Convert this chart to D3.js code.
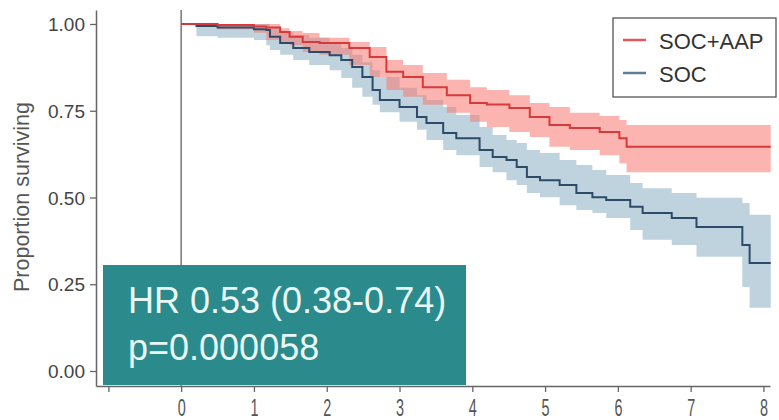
<!DOCTYPE html>
<html>
<head>
<meta charset="utf-8">
<script src="https://cdn.jsdelivr.net/npm/d3@7"></script>
<style>
  body { margin: 0; background: #fff; }
  svg { font-family: "Liberation Sans", Arial, sans-serif; }
</style>
</head>
<body>
<script>
// Kaplan-Meier step data (time in years)
var aapTime  = [0, 0.5, 1.0, 1.17, 1.36, 1.49, 1.67, 1.9, 2.31, 2.59, 2.82, 3.05, 3.32, 3.65, 3.97, 4.2, 4.51, 4.79, 5.06, 5.34, 5.75, 6.02, 6.12];
var aapSurv  = [1, 0.997, 0.993, 0.99, 0.977, 0.963, 0.948, 0.945, 0.931, 0.905, 0.862, 0.847, 0.818, 0.795, 0.772, 0.768, 0.758, 0.732, 0.709, 0.70, 0.689, 0.671, 0.646];
var aapLower = [1, 0.985, 0.975, 0.954, 0.945, 0.939, 0.919, 0.911, 0.882, 0.847, 0.81, 0.79, 0.767, 0.744, 0.718, 0.703, 0.689, 0.674, 0.646, 0.637, 0.622, 0.599, 0.573];
var aapUpper = [1, 1, 1, 1, 0.988, 0.98, 0.974, 0.96, 0.948, 0.934, 0.896, 0.882, 0.859, 0.839, 0.818, 0.81, 0.795, 0.772, 0.761, 0.744, 0.735, 0.723, 0.709];

var socTime  = [0, 0.21, 0.5, 1.0, 1.17, 1.22, 1.36, 1.54, 1.76, 2.04, 2.2, 2.35, 2.49, 2.63, 2.73, 3.0, 3.24, 3.37, 3.6, 3.78, 4.1, 4.28, 4.47, 4.61, 4.75, 4.93, 5.2, 5.43, 5.65, 5.84, 6.17, 6.34, 6.74, 7.08, 7.71, 7.81];
var socSurv  = [1, 0.994, 0.99, 0.985, 0.983, 0.963, 0.945, 0.931, 0.919, 0.91, 0.896, 0.876, 0.847, 0.81, 0.781, 0.761, 0.732, 0.715, 0.686, 0.671, 0.637, 0.617, 0.608, 0.588, 0.559, 0.55, 0.536, 0.513, 0.501, 0.493, 0.473, 0.455, 0.441, 0.415, 0.363, 0.311];
var socLower = [1, 0.965, 0.96, 0.954, 0.939, 0.925, 0.911, 0.896, 0.882, 0.867, 0.844, 0.816, 0.79, 0.767, 0.746, 0.718, 0.695, 0.666, 0.637, 0.622, 0.588, 0.573, 0.55, 0.536, 0.513, 0.501, 0.478, 0.464, 0.455, 0.441, 0.406, 0.378, 0.363, 0.329, 0.242, 0.182];
var socUpper = [1, 1, 1, 1, 1, 0.99, 0.977, 0.968, 0.96, 0.948, 0.931, 0.911, 0.89, 0.867, 0.847, 0.816, 0.795, 0.781, 0.761, 0.738, 0.703, 0.68, 0.666, 0.657, 0.637, 0.628, 0.608, 0.594, 0.579, 0.565, 0.542, 0.527, 0.513, 0.499, 0.484, 0.45];

var endTime = 8.1;
var xTicks = [-1, 0, 1, 2, 3, 4, 5, 6, 7, 8];
var yTicks = [0, 0.25, 0.5, 0.75, 1];
var groups = ["SOC+AAP", "SOC"];

var w = 779, h = 420;
var svg = d3.select("body").append("svg").attr("width", w).attr("height", h);

var x = d3.scaleLinear().domain([-1.17, 8.09]).range([96, 770]);
var y = d3.scaleLinear().domain([-0.0432, 1.0403]).range([386, 10]);

// build step rows, extend last value to end of follow-up
function rows(t, s, lo, up) {
  var r = t.map(function (d, i) { return { t: d, s: s[i], lo: lo[i], up: up[i] }; });
  var last = r[r.length - 1];
  r.push({ t: endTime, s: last.s, lo: last.lo, up: last.up });
  return r;
}
var aap = rows(aapTime, aapSurv, aapLower, aapUpper);
var soc = rows(socTime, socSurv, socLower, socUpper);

var area = d3.area().curve(d3.curveStepAfter)
  .x(function (d) { return x(d.t); })
  .y0(function (d) { return y(d.lo); })
  .y1(function (d) { return y(d.up); });
var line = d3.line().curve(d3.curveStepAfter)
  .x(function (d) { return x(d.t); })
  .y(function (d) { return y(d.s); });

//axes
var xAxis = svg.append("g").attr("transform", "translate(0,386)")
  .call(d3.axisBottom(x).tickValues(xTicks).tickSize(6).tickSizeOuter(0)
    .tickFormat(function (d) { return d < 0 ? "" : d; }));
xAxis.select(".domain").attr("stroke", "#666").attr("stroke-width", 1.5);
xAxis.selectAll(".tick line").attr("stroke", "#666").attr("stroke-width", 1.3);
xAxis.selectAll(".tick text")
  .attr("y", 30).attr("dy", 0)
  .attr("transform", "scale(0.6,1)")
  .attr("font-size", 24).attr("fill", "#555");

var yAxis = svg.append("g").attr("transform", "translate(96,0)")
  .call(d3.axisLeft(y).tickValues(yTicks).tickSize(6).tickSizeOuter(0).tickPadding(5).tickFormat(d3.format(".2f")));
yAxis.select(".domain").attr("stroke", "#666").attr("stroke-width", 1.5);
yAxis.selectAll(".tick line").attr("stroke", "#666").attr("stroke-width", 1.3);
yAxis.selectAll(".tick text").attr("font-size", 19).attr("fill", "#444").attr("dy", "0.35em");

svg.append("text")
  .attr("transform", "translate(29,197) rotate(-90)")
  .attr("text-anchor", "middle")
  .attr("font-size", 21.5)
  .attr("fill", "#555")
  .text("Proportion surviving");

// reference line at time 0
svg.append("line")
  .attr("x1", x(0)).attr("x2", x(0))
  .attr("y1", 10).attr("y2", 386)
  .attr("stroke", "#777").attr("stroke-width", 1.5);

// confidence bands
svg.append("path").datum(soc).attr("d", area)
  .attr("fill", "#4682a0").attr("fill-opacity", 0.35);
svg.append("path").datum(aap).attr("d", area)
  .attr("fill", "#f8766d").attr("fill-opacity", 0.55);

// survival curves
svg.append("path").datum(soc).attr("d", line)
  .attr("fill", "none").attr("stroke", "#2d4b69").attr("stroke-width", 2);
svg.append("path").datum(aap).attr("d", line)
  .attr("fill", "none").attr("stroke", "#d8393a").attr("stroke-width", 2);

// legend
var legend = svg.append("g");
legend.append("rect")
  .attr("x", 613).attr("y", 18).attr("width", 163).attr("height", 79)
  .attr("fill", "#fff").attr("stroke", "#555").attr("stroke-width", 1.3);
var legColors = ["#e0585c", "#5d7c95"];
groups.forEach(function (g, i) {
  var cy = 40 + i * 33;
  legend.append("line")
    .attr("x1", 623).attr("x2", 646).attr("y1", cy).attr("y2", cy)
    .attr("stroke", legColors[i]).attr("stroke-width", 2.5);
  legend.append("text")
    .attr("x", 659).attr("y", cy + 9)
    .attr("font-size", 22).attr("fill", "#333")
    .text(g);
});

// hazard ratio box
svg.append("rect")
  .attr("x", 103).attr("y", 265).attr("width", 363).attr("height", 120)
  .attr("fill", "#2b8a8c");
svg.append("text").attr("x", 128).attr("y", 313)
  .attr("font-size", 36).attr("fill", "#e8f6f4")
  .text("HR 0.53 (0.38-0.74)");
svg.append("text").attr("x", 128).attr("y", 360)
  .attr("font-size", 36).attr("fill", "#e8f6f4")
  .text("p=0.000058");
</script>
</body>
</html>
